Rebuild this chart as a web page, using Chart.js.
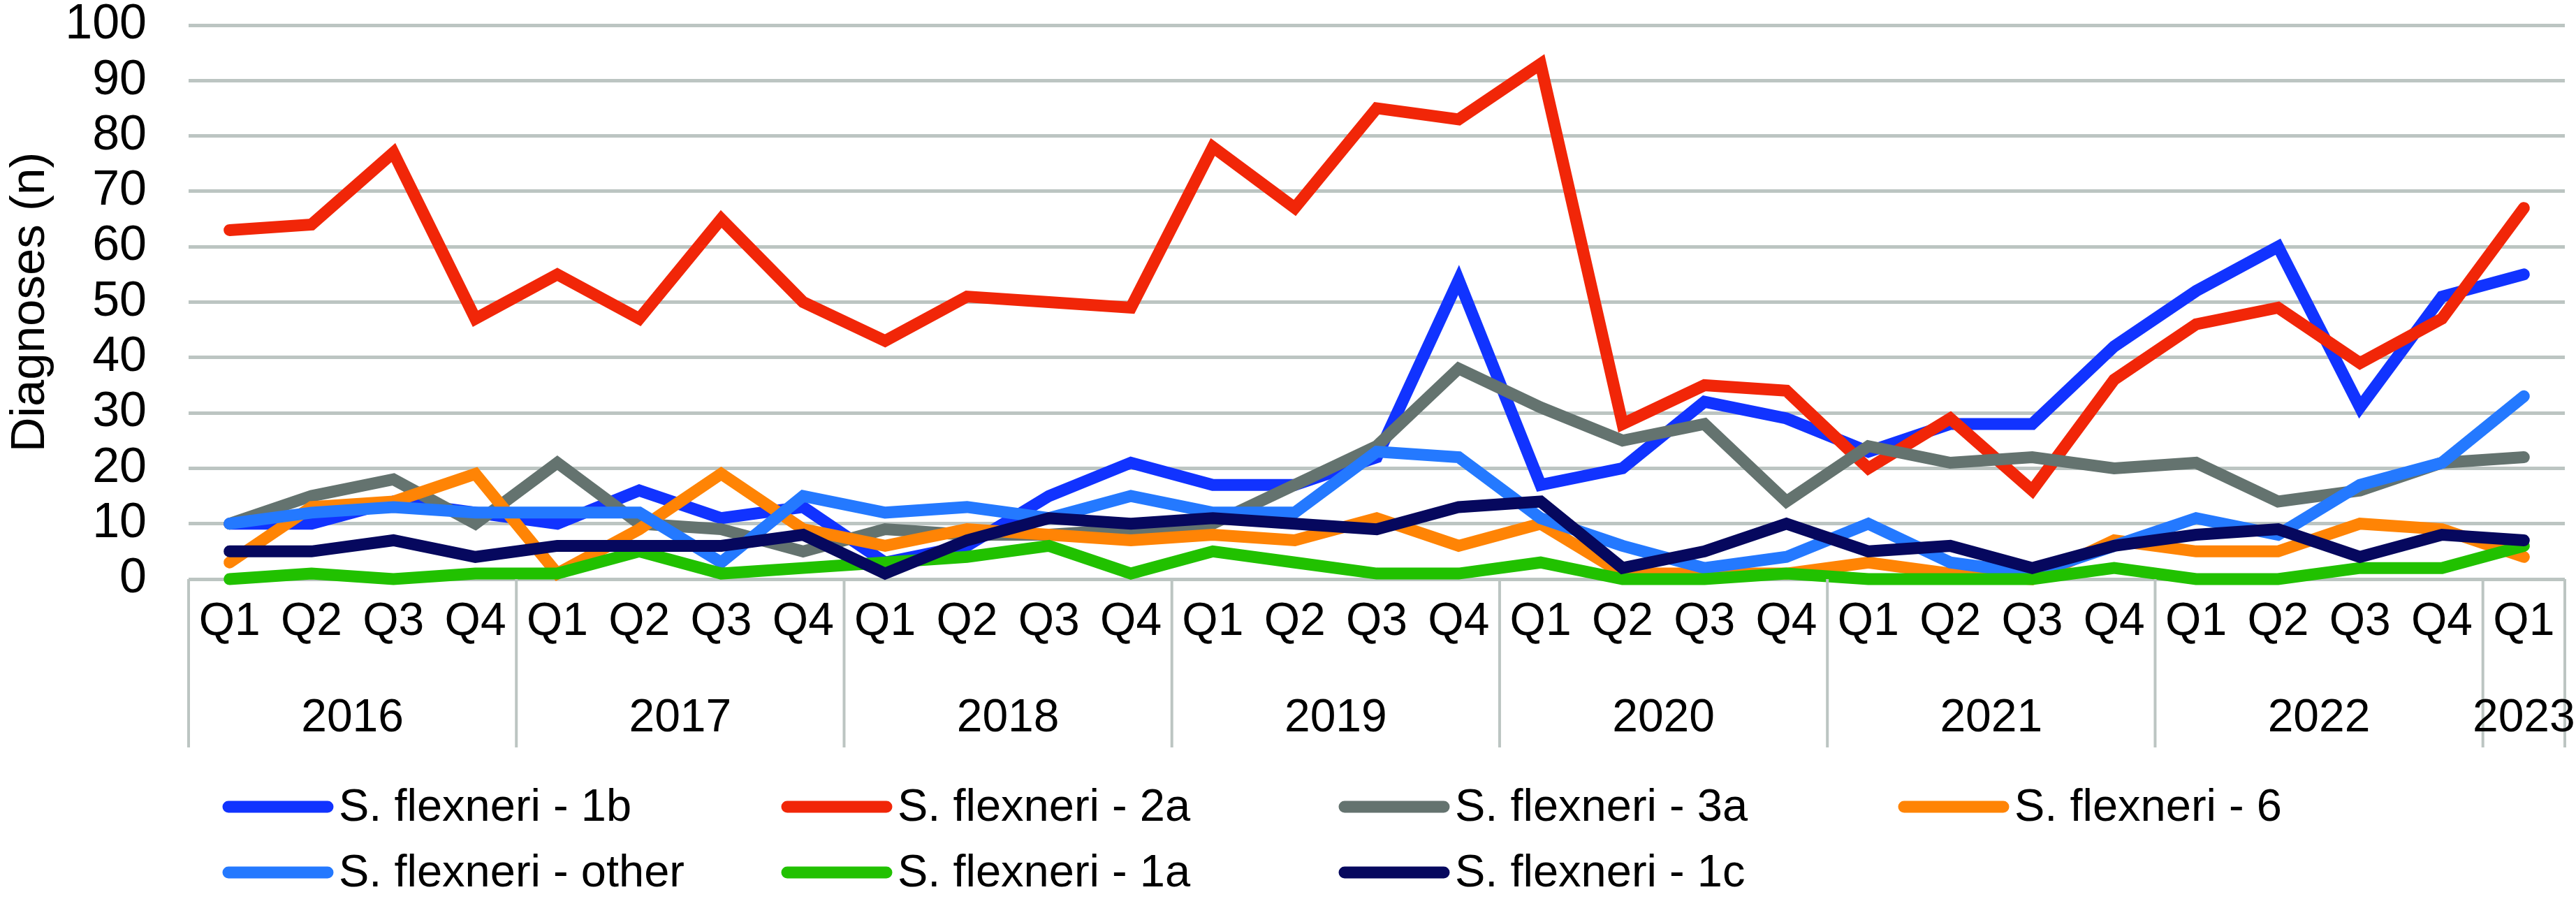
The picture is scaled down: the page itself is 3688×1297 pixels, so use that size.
<!DOCTYPE html>
<html>
<head>
<meta charset="utf-8">
<script src="https://cdn.jsdelivr.net/npm/chart.js@4.4.1/dist/chart.umd.min.js"></script>
<style>
html,body{margin:0;padding:0;background:#ffffff;}
#wrap{width:3688px;height:1297px;}
</style>
</head>
<body>
<div id="wrap"><canvas id="c" width="3688" height="1297"></canvas></div>
<script>
// ---- data ----
const quarters = ['Q1','Q2','Q3','Q4','Q1','Q2','Q3','Q4','Q1','Q2','Q3','Q4','Q1','Q2','Q3','Q4',
                  'Q1','Q2','Q3','Q4','Q1','Q2','Q3','Q4','Q1','Q2','Q3','Q4','Q1'];
const years = ['2016','2017','2018','2019','2020','2021','2022','2023'];
const yearSpans = [4,4,4,4,4,4,4,1];
const yTicks = [0,10,20,30,40,50,60,70,80,90,100];

const seriesNames = ['S. flexneri - 1b','S. flexneri - 2a','S. flexneri - 3a','S. flexneri - 6',
                     'S. flexneri - other','S. flexneri - 1a','S. flexneri - 1c'];
const s1b    = [10,10,14,12,10,16,11,13, 3, 6,15,21,17,17,22,54,17,20,32,29,23,28,28,42,52,60,31,51,55];
const s2a    = [63,64,77,47,55,47,65,50,43,51,50,49,78,67,85,83,93,28,35,34,20,29,16,36,46,49,39,47,67];
const s3a    = [10,15,18,10,21,10, 9, 5, 9, 8, 8, 9,10,17,24,38,31,25,28,14,24,21,22,20,21,14,16,21,22];
const s6     = [ 3,13,14,19, 1, 9,19, 9, 6, 9, 8, 7, 8, 7,11, 6,10, 1, 1, 1, 3, 1, 0, 7, 5, 5,10, 9, 4];
const sOther = [10,12,13,12,12,12, 3,15,12,13,11,15,12,12,23,22,11, 6, 2, 4,10, 3, 1, 6,11, 8,17,21,33];
const s1a    = [ 0, 1, 0, 1, 1, 5, 1, 2, 3, 4, 6, 1, 5, 3, 1, 1, 3, 0, 0, 1, 0, 0, 0, 2, 0, 0, 2, 2, 6];
const s1c    = [ 5, 5, 7, 4, 6, 6, 6, 8, 1, 7,11,10,11,10, 9,13,14, 2, 5,10, 5, 6, 2, 6, 8, 9, 4, 8, 7];

const seriesValues = [s1b, s2a, s3a, s6, sOther, s1a, s1c];
const seriesColors = ['#1133ff','#f12608','#64736f','#ff8405','#2479ff','#21c100','#06085e'];

// ---- styles ----
const FONT = '"Liberation Sans", Arial, sans-serif';
const GRID = '#bcc5c2';

const datasets = seriesValues.map((vals, i) => ({
  label: seriesNames[i],
  data: vals,
  borderColor: seriesColors[i],
  backgroundColor: seriesColors[i],
  borderWidth: 17,
  pointRadius: 0,
  pointHoverRadius: 0,
  tension: 0,
  fill: false,
  borderCapStyle: 'round',
  borderJoinStyle: 'miter',
  clip: 12,
  order: seriesValues.length - i
}));

const extras = {
  id: 'extras',
  afterDraw(chart) {
    const ctx = chart.ctx;
    const xs = chart.scales.x;
    const half = (xs.getPixelForValue(1) - xs.getPixelForValue(0)) / 2;
    const top = chart.chartArea.bottom;
    ctx.save();
    // group separators
    ctx.strokeStyle = GRID;
    ctx.lineWidth = 4;
    let start = 0;
    const bounds = [0];
    yearSpans.forEach(s => { start += s; bounds.push(start); });
    bounds.forEach(b => {
      const px = b < quarters.length ? xs.getPixelForValue(b) - half : xs.getPixelForValue(quarters.length - 1) + half;
      ctx.beginPath();
      ctx.moveTo(px, top);
      ctx.lineTo(px, 1070);
      ctx.stroke();
    });
    // year labels
    ctx.fillStyle = '#000';
    ctx.font = '66px ' + FONT;
    ctx.textAlign = 'center';
    ctx.textBaseline = 'middle';
    years.forEach((y, i) => {
      const a = bounds[i], e = bounds[i + 1] - 1;
      const cx = (xs.getPixelForValue(a) + xs.getPixelForValue(e)) / 2;
      ctx.fillText(y, cx, 1029);
    });
    // legend
    const cols = [319, 1119, 1917, 2718];
    const rows = [1155, 1249];
    ctx.textAlign = 'left';
    ctx.font = '65px ' + FONT;
    chart.data.datasets.forEach((ds, i) => {
      const r = i < 4 ? 0 : 1;
      const c = i < 4 ? i : i - 4;
      const x0 = cols[c], y0 = rows[r];
      ctx.strokeStyle = ds.borderColor;
      ctx.lineWidth = 17;
      ctx.lineCap = 'round';
      ctx.beginPath();
      ctx.moveTo(x0 + 8, y0);
      ctx.lineTo(x0 + 150, y0);
      ctx.stroke();
      ctx.fillStyle = '#000';
      ctx.fillText(ds.label, x0 + 166, y0 + 2);
    });
    ctx.restore();
  }
};

new Chart(document.getElementById('c'), {
  type: 'line',
  data: { labels: quarters, datasets },
  options: {
    responsive: false,
    animation: false,
    events: [],
    layout: { padding: { left: 0, right: 16, top: 36, bottom: 0 } },
    plugins: { legend: { display: false }, tooltip: { enabled: false } },
    scales: {
      x: {
        type: 'category',
        offset: true,
        grid: { display: false },
        border: { display: false },
        ticks: {
          autoSkip: false, maxRotation: 0, minRotation: 0,
          color: '#000', padding: 14,
          font: { family: FONT, size: 66, lineHeight: 1.2 }
        },
        afterFit(s) { s.height = 468; s.paddingLeft = 0; s.paddingRight = 0; }
      },
      y: {
        min: 0, max: 100,
        afterBuildTicks(s) { s.ticks = yTicks.map(v => ({ value: v })); },
        grid: { color: GRID, lineWidth: 5, drawTicks: false },
        border: { display: false },
        ticks: {
          color: '#000', padding: 60,
          font: { family: FONT, size: 70, lineHeight: 0.9 }
        },
        title: {
          display: true, text: 'Diagnoses (n)', color: '#000',
          font: { family: FONT, size: 69, lineHeight: 1.2 },
          padding: { top: 3, bottom: 0 }
        },
        afterFit(s) { s.width = 270; s.paddingTop = 0; s.paddingBottom = 0; }
      }
    }
  },
  plugins: [extras]
});
</script>
</body>
</html>
